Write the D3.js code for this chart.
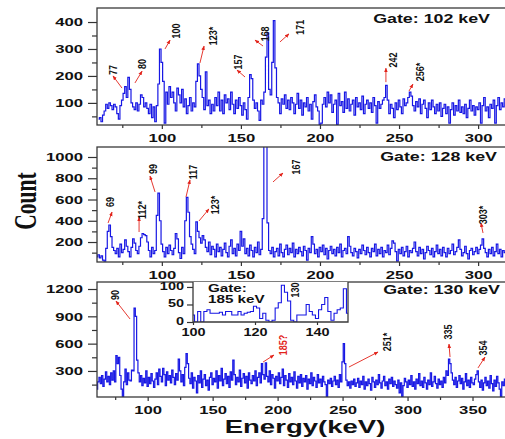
<!DOCTYPE html>
<html>
<meta charset="utf-8">
<title>Gated spectra</title>
<script src="https://d3js.org/d3.v7.min.js"></script>
<style>
  body { margin: 0; background: #fff; }
  text { font-family: "Liberation Sans", Arial, sans-serif; fill: #111; }
</style>
<body>
<script>
// counts per 1 keV bin, first bin energy given by startXXX
var start102 = 60;
var counts102 = [
  40, 45, 30, 55, 70, 95, 80, 100, 90, 75,
  95, 85, 60, 40, 90, 110, 135, 160, 120, 195,
  150, 100, 85, 75, 100, 70, 95, 130, 120, 85,
  100, 80, 60, 95, 45, 85, 30, 90, 170, 300,
  250, 180, 25, 140, 95, 160, 120, 140, 100, 70,
  155, 130, 100, 150, 85, 115, 60, 90, 120, 70,
  100, 85, 180, 245, 200, 150, 120, 75, 215, 90,
  110, 60, 95, 70, 120, 90, 140, 70, 110, 60,
  130, 100, 115, 75, 140, 95, 60, 110, 80, 120,
  90, 55, 100, 75, 40, 120, 205, 190, 110, 80,
  100, 70, 35, 110, 95, 140, 270, 360, 150, 130,
  250, 405, 230, 120, 100, 60, 115, 95, 130, 80,
  110, 75, 120, 100, 60, 95, 135, 80, 110, 55,
  100, 85, 120, 70, 95, 40, 105, 130, 85, 70,
  20, 25, 95, 120, 85, 140, 100, 130, 65, 95,
  110, 20, 135, 90, 105, 65, 140, 80, 115, 70,
  95, 110, 55, 120, 85, 100, 75, 125, 60, 95,
  110, 80, 100, 65, 120, 90, 25, 105, 80, 95,
  110, 120, 165, 110, 60, 95, 80, 45, 100, 75,
  110, 85, 60, 115, 90, 100, 120, 140, 125, 90,
  70, 105, 85, 115, 60, 95, 110, 80, 45, 100,
  75, 110, 85, 60, 95, 70, 100, 50, 80, 95,
  60, 85, 25, 75, 100, 55, 90, 70, 110, 65,
  85, 60, 95, 45, 80, 110, 70, 90, 55, 85,
  75, 100, 25, 90, 120, 70, 85, 45, 95, 80,
  110, 25, 90, 120, 75, 100, 85, 115
];

var start128 = 59;
var counts128 = [
  60, 80, 50, 70, 30, 20, 140, 300, 360, 250,
  150, 120, 90, 140, 60, 180, 100, 130, 220, 160,
  110, 60, 150, 230, 190, 120, 90, 160, 240, 280,
  270, 260, 200, 120, 60, 150, 90, 120, 450, 660,
  400, 180, 110, 60, 150, 90, 170, 120, 80, 140,
  280, 230, 100, 45, 150, 90, 400, 620, 480, 250,
  180, 130, 90, 390, 300, 240, 190, 260, 220, 150,
  110, 200, 80, 160, 130, 60, 180, 110, 150, 70,
  130, 190, 100, 60, 160, 220, 90, 140, 70, 180,
  120, 300, 160, 230, 90, 140, 70, 170, 120, 60,
  150, 100, 200, 80, 130, 420, 1200, 1150, 380, 120,
  90, 150, 60, 110, 140, 70, 180, 100, 60, 130,
  170, 80, 140, 100, 190, 60, 130, 90, 150, 110,
  70, 160, 120, 30, 140, 100, 250, 180, 90, 130,
  60, 150, 110, 170, 80, 140, 40, 120, 160, 90,
  130, 70, 150, 100, 180, 60, 120, 140, 90, 250,
  160, 100, 70, 140, 110, 50, 130, 90, 170, 120,
  80, 150, 100, 60, 140, 110, 180, 70, 130, 90,
  150, 60, 120, 100, 170, 80, 140, 210, 190, 110,
  20, 130, 90, 150, 70, 110, 160, 60, 120, 100,
  140, 200, 110, 70, 150, 90, 130, 40, 100, 160,
  120, 80, 140, 60, 110, 170, 90, 130, 70, 150,
  100, 60, 140, 90, 120, 180, 80, 110, 150, 220,
  130, 70, 100, 160, 90, 40, 120, 140, 80, 110,
  150, 90, 130, 170, 230, 140, 100, 60, 130, 90,
  150, 70, 110, 180, 90, 130, 60, 120, 100
];

var start130 = 61;
var counts130 = [
  100, 180, 230, 160, 250, 130, 210, 290, 180, 240,
  150, 280, 200, 300, 180, 470, 380, 450, 250, 100,
  10, 180, 320, 150, 280, 200, 190, 310, 300, 990,
  900, 420, 280, 180, 250, 140, 220, 170, 300, 130,
  230, 160, 270, 190, 120, 210, 280, 150, 320, 240,
  180, 330, 260, 140, 290, 200, 250, 170, 310, 230,
  150, 270, 200, 430, 300, 180, 260, 140, 340, 490,
  380, 220, 160, 280, 110, 230, 190, 60, 250, 170,
  300, 120, 210, 260, 140, 200, 90, 230, 280, 150,
  220, 180, 300, 110, 250, 190, 330, 140, 210, 270,
  160, 240, 120, 290, 200, 420, 260, 150, 230, 180,
  310, 130, 220, 270, 170, 240, 110, 280, 200, 160,
  250, 190, 300, 140, 230, 280, 170, 380, 260, 210,
  390, 240, 180, 300, 150, 260, 220, 110, 240, 190,
  280, 160, 230, 320, 140, 250, 200, 120, 270, 180,
  230, 150, 290, 190, 110, 240, 170, 260, 130, 220,
  180, 250, 100, 210, 160, 280, 140, 230, 190, 120,
  260, 170, 210, 130, 240, 180, 150, 10, 200, 160,
  220, 130, 190, 240, 150, 200, 120, 260, 180, 400,
  600, 380, 200, 140, 180, 110, 190, 150, 210, 130,
  170, 220, 120, 190, 150, 240, 100, 180, 140, 210,
  160, 90, 230, 180, 120, 200, 150, 260, 170, 110,
  190, 240, 140, 180, 100, 210, 160, 230, 130, 190,
  150, 110, 200, 60, 170, 20, 140, 220, 180, 120,
  200, 150, 250, 130, 180, 100, 210, 160, 270, 140,
  190, 120, 230, 170, 100, 200, 150, 280, 130, 180,
  240, 160, 110, 210, 150, 190, 120, 230, 170, 300,
  250, 430, 380, 280, 200, 150, 230, 120, 190, 250,
  160, 220, 100, 180, 270, 140, 200, 120, 230, 170,
  150, 210, 260, 300, 180, 120, 200, 90, 170, 230,
  140, 190, 110, 250, 160, 80, 200, 130, 240, 170,
  100, 20, 180, 140, 210
];

var start185 = 100;
var counts185 = [
  20, 0, 30, 0, 30, 35, 25, 25, 25, 28,
  20, 30, 30, 20, 20, 30, 20, 25, 28, 30,
  45, 40, 10, 25, 5, 0, 5, 40, 55, 105,
  85, 60, 5, 0, 20, 20, 20, 50, 30, 20,
  10, 35, 50, 70, 30, 5, 25, 35, 40, 95,
  25
];

var xTicksTop = [100, 150, 200, 250, 300];
var xMinorTop = [75, 125, 175, 225, 275];
var xTicksBottom = [100, 150, 200, 250, 300, 350];
var xMinorBottom = [75, 125, 175, 225, 275, 325];
var yTicks102 = [100, 200, 300, 400], yMinor102 = [50, 150, 250, 350];
var yTicks128 = [200, 400, 600, 800, 1000], yMinor128 = [100, 300, 500, 700, 900];
var yTicks130 = [300, 600, 900, 1200], yMinor130 = [150, 450, 750, 1050];
var insetXTicks = [100, 120, 140], insetYTicks = [0, 50, 100];

var gates = ["Gate: 102 keV", "Gate: 128 keV", "Gate: 130 keV"];

// peak labels: text, label anchor (e, c), arrow from (e0, c0) to (e1, c1)
var peaks102 = [
  ["77", 69.1, 222, 74.8, 155, 69.1, 200],
  ["80", 87.5, 244, 83.0, 174, 87.5, 218],
  ["100", 109.0, 367, 102.0, 300, 105.2, 333],
  ["123*", 132.4, 348, 124.1, 248, 126.7, 311],
  ["157", 148.2, 252, 152.6, 196, 147.5, 222],
  ["168", 165.2, 356, 164.0, 311, 158.9, 333],
  ["171", 187.4, 381, 174.7, 326, 180.4, 356],
  ["242", 246.2, 259, 241.7, 177, 241.7, 229],
  ["256*", 263.2, 215, 256.3, 144, 258.8, 170]
];
var peaks128 = [
  ["69", 67.2, 577, 66.0, 379, 68.5, 482],
  ["112*", 87.5, 501, 85.6, 294, 85.6, 435],
  ["99", 94.4, 887, 95.7, 671, 92.5, 821],
  ["117", 119.7, 859, 115.3, 624, 117.8, 784],
  ["123*", 133.6, 548, 123.5, 398, 129.8, 511],
  ["167", 184.8, 906, 170.3, 765, 176.6, 849],
  ["303*", 303.1, 454, 303.1, 285, 301.8, 379]
];
var peaks130 = [
  ["90", 74.9, 1134, 86.4, 871, 75.6, 1068],
  ["185?", 204.1, 585, 188.8, 398, 197.2, 475],
  ["251*", 284.2, 618, 254.9, 343, 277.3, 508],
  ["335", 331.1, 728, 332.7, 453, 331.9, 596],
  ["354", 358.1, 552, 354.2, 333, 359.6, 453]
];

var W = 505, H = 439, SX = 1.45;
var left = 97, right = 505;
var blue = "#1717e4", red = "#e2231a";

var svg = d3.select("body").append("svg").attr("width", W).attr("height", H);
svg.append("rect").attr("width", W).attr("height", H).attr("fill", "#fff");

var defs = svg.append("defs");
defs.append("marker").attr("id", "arrow")
  .attr("viewBox", "0 0 10 10").attr("refX", 9).attr("refY", 5)
  .attr("markerWidth", 5).attr("markerHeight", 5).attr("orient", "auto")
  .append("path").attr("d", "M0,1 L10,5 L0,9 Z").attr("fill", red);

function wideText(g, x, y, str, size, anchor) {
  return g.append("text")
    .attr("transform", "translate(" + x + "," + y + ") scale(" + SX + ",1)")
    .attr("text-anchor", anchor || "start")
    .style("font-size", size + "px").style("font-weight", "bold")
    .text(str);
}

function peakText(g, px, py, str, colour) {
  return g.append("text")
    .attr("transform", "translate(" + px + "," + py + ") scale(1.3,1) rotate(-90)")
    .attr("text-anchor", "middle").attr("dy", "0.35em")
    .style("font-size", "9px").style("font-weight", "bold")
    .style("fill", colour)
    .text(str);
}

function toBins(start, counts) {
  return counts.map(function(c, i) { return { e: start + i, c: c }; });
}

function panel(id, top, bottom, xDom, yDom, data, xT, xM, yT, yM, gate, gateX, gateY, peaks) {
  var x = d3.scaleLinear().domain(xDom).range([left, right]);
  var y = d3.scaleLinear().domain(yDom).range([bottom, top]);
  var g = svg.append("g");

  defs.append("clipPath").attr("id", "clip" + id)
    .append("rect").attr("x", left).attr("y", top)
    .attr("width", right - left).attr("height", bottom - top);

  var line = d3.line()
    .x(function(d) { return x(d.e); })
    .y(function(d) { return y(d.c); })
    .curve(d3.curveStep);

  g.append("path").datum(data)
    .attr("clip-path", "url(#clip" + id + ")")
    .attr("d", line)
    .attr("fill", "none").attr("stroke", blue).attr("stroke-width", 1.2);

  // axes
  var xa = g.append("g").attr("transform", "translate(0," + bottom + ")")
    .call(d3.axisBottom(x).tickValues(xT).tickSize(4).tickFormat(d3.format("d")));
  g.append("g").attr("transform", "translate(0," + bottom + ")")
    .call(d3.axisBottom(x).tickValues(xM).tickSize(3).tickFormat(""));
  var ya = g.append("g").attr("transform", "translate(" + left + ",0)")
    .call(d3.axisLeft(y).tickValues(yT).tickSize(9).tickFormat(d3.format("d")));
  g.append("g").attr("transform", "translate(" + left + ",0)")
    .call(d3.axisLeft(y).tickValues(yM).tickSize(5).tickFormat(""));
  g.selectAll(".domain").remove();
  g.selectAll(".tick line").attr("stroke", "#333").attr("stroke-width", 1.2);
  xa.selectAll("text").attr("y", 9).attr("transform", "scale(" + SX + ",1)")
    .style("font-size", "11.5px").style("font-weight", "bold").attr("fill", "#111");
  ya.selectAll("text").attr("x", -14 / SX).attr("transform", "scale(" + SX + ",1)")
    .style("font-size", "11.5px").style("font-weight", "bold").attr("fill", "#111");

  g.append("rect").attr("x", left).attr("y", top)
    .attr("width", right - left + 3).attr("height", bottom - top)
    .attr("fill", "none").attr("stroke", "#3a3a3a").attr("stroke-width", 1.3);

  wideText(g, gateX, gateY, gate, 12.3, "end");

  peaks.forEach(function(p) {
    g.append("line")
      .attr("x1", x(p[3])).attr("y1", y(p[4]))
      .attr("x2", x(p[5])).attr("y2", y(p[6]))
      .attr("stroke", red).attr("stroke-width", 0.9)
      .attr("marker-end", "url(#arrow)");
    peakText(g, x(p[1]), y(p[2]), p[0], p[0] === "185?" ? red : "#111");
  });
  return { x: x, y: y, g: g };
}

panel(1, 8, 125, [59, 317], [18, 452], toBins(start102, counts102),
  xTicksTop, xMinorTop, yTicks102, yMinor102, gates[0], 490, 23, peaks102);
panel(2, 147, 262, [59, 317], [12, 1094], toBins(start128, counts128),
  xTicksTop, xMinorTop, yTicks128, yMinor128, gates[1], 497, 161, peaks128);
panel(3, 282, 397, [61, 375], [14, 1277], toBins(start130, counts130),
  xTicksBottom, xMinorBottom, yTicks130, yMinor130, gates[2], 500, 294, peaks130);

// inset: gate 185 keV
var ix = d3.scaleLinear().domain([100, 150]).range([193, 348]);
var iy = d3.scaleLinear().domain([0, 117]).range([322, 281]);
var ig = svg.append("g");
ig.append("rect").attr("x", 193).attr("y", 282).attr("width", 155).attr("height", 40).attr("fill", "#fff");
defs.append("clipPath").attr("id", "clipInset")
  .append("rect").attr("x", 193).attr("y", 282).attr("width", 155).attr("height", 40);
ig.append("path").datum(toBins(start185, counts185))
  .attr("clip-path", "url(#clipInset)")
  .attr("d", d3.line().x(function(d) { return ix(d.e); }).y(function(d) { return iy(d.c); }).curve(d3.curveStep))
  .attr("fill", "none").attr("stroke", blue).attr("stroke-width", 1.1);
var ixa = ig.append("g").attr("transform", "translate(0,322)")
  .call(d3.axisBottom(ix).tickValues(insetXTicks).tickSize(3));
var iya = ig.append("g").attr("transform", "translate(193,0)")
  .call(d3.axisLeft(iy).tickValues(insetYTicks).tickSize(6));
ig.selectAll(".domain").remove();
ig.selectAll(".tick line").attr("stroke", "#333").attr("stroke-width", 1.2);
ixa.selectAll("text").attr("y", 7).attr("transform", "scale(" + SX + ",1)")
  .style("font-size", "10px").style("font-weight", "bold").attr("fill", "#111");
iya.selectAll("text").attr("x", -9 / SX).attr("dy", "0.25em").attr("transform", "scale(" + SX + ",1)")
  .style("font-size", "10px").style("font-weight", "bold").attr("fill", "#111");
ig.append("path").attr("d", "M193,282 V322 H348 V282")
  .attr("fill", "none").attr("stroke", "#3a3a3a").attr("stroke-width", 1.3);
wideText(ig, 208, 292, "Gate:", 10.5, "start");
wideText(ig, 208, 303, "185 keV", 10.5, "start");
peakText(ig, ix(132.9), iy(91), "130", "#111");

// axis titles
wideText(svg, 305, 433, "Energy(keV)", 19, "middle");
svg.append("text")
  .attr("transform", "translate(25,201) scale(" + SX + ",1) rotate(-90)")
  .attr("text-anchor", "middle").attr("dy", "0.35em")
  .style("font-family", "'Liberation Serif', 'Times New Roman', serif")
  .style("font-size", "21.5px").style("font-weight", "bold")
  .text("Count");
</script>
</body>
</html>
